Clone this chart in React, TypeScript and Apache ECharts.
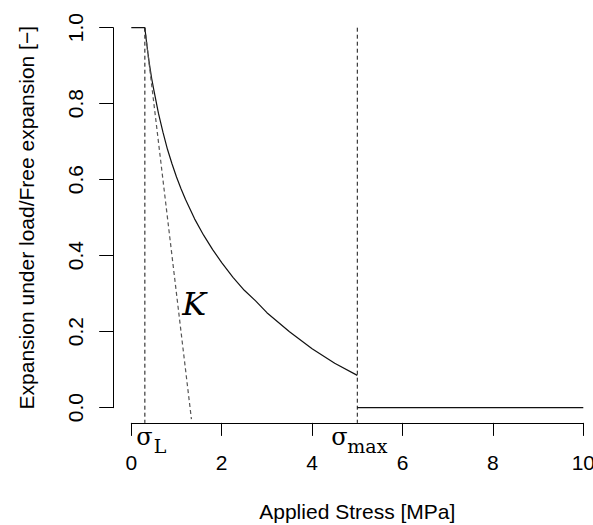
import React, { useEffect, useRef } from "react";
import * as echarts from "echarts";

// Expansion under load / free expansion vs applied stress
const curveStress = [0, 0.3, 0.33, 0.36, 0.4, 0.45, 0.5, 0.6, 0.7, 0.8, 0.9, 1.0, 1.1, 1.2, 1.4, 1.6, 1.8, 2.0, 2.25, 2.5, 2.75, 3.0, 3.5, 4.0, 4.5, 5.0];
const curveRatio = [1.0, 1.0, 0.969, 0.94, 0.905, 0.867, 0.835, 0.775, 0.725, 0.68, 0.642, 0.607, 0.576, 0.548, 0.497, 0.454, 0.416, 0.382, 0.343, 0.309, 0.281, 0.25, 0.2, 0.155, 0.117, 0.085];
const afterStress = [5, 10];
const afterRatio = [0, 0];
const kStress = [0.3, 1.33];
const kRatio = [1.0, -0.03];
const sigmaL = 0.3;
const sigmaMax = 5;
const guideTop = 1.0;
const guideBottom = -0.04;
const xTicks = [0, 2, 4, 6, 8, 10];
const yTicks = [0, 0.2, 0.4, 0.6, 0.8, 1.0];

const xTitle = "Applied Stress [MPa]";
const yTitle = "Expansion under load/Free expansion [\u2212]";

const zip = (xs: number[], ys: number[]) => xs.map((x, i) => [x, ys[i]]);

export default function App() {
  const ref = useRef<HTMLDivElement>(null);
  useEffect(() => {
    if (!ref.current) return;
    const chart = echarts.init(ref.current, null, { renderer: "svg" });
    const sans = "Liberation Sans";
    const serif = "DejaVu Serif";
    chart.setOption({
      animation: false,
      backgroundColor: "#fff",
      grid: {
        left: 131.3,
        right: 9.7,
        top: 27.7,
        bottom: 117.3,
        containLabel: false,
        outerBoundsMode: "none",
      },
      xAxis: {
        type: "value",
        min: xTicks[0],
        max: xTicks[xTicks.length - 1],
        interval: 2,
        offset: 15.2,
        splitLine: { show: false },
        axisLine: { show: true, onZero: false, lineStyle: { color: "#000", width: 1 } },
        axisTick: { show: true, length: 13, lineStyle: { color: "#000", width: 1 } },
        axisLabel: { color: "#000", fontSize: 21, fontFamily: sans, margin: 29 },
        name: xTitle,
        nameLocation: "middle",
        nameGap: 78,
        nameTextStyle: { color: "#000", fontSize: 21, fontFamily: sans },
      },
      yAxis: {
        type: "value",
        min: yTicks[0],
        max: yTicks[yTicks.length - 1],
        interval: 0.2,
        offset: 18.1,
        splitLine: { show: false },
        axisLine: { show: true, onZero: false, lineStyle: { color: "#000", width: 1 } },
        axisTick: { show: true, length: 14, lineStyle: { color: "#000", width: 1 } },
        axisLabel: {
          color: "#000",
          fontSize: 21,
          fontFamily: sans,
          rotate: 90,
          margin: 27,
          formatter: (v: number) => v.toFixed(1),
        },
        name: yTitle,
        nameLocation: "middle",
        nameRotate: 90,
        nameGap: 76,
        nameTextStyle: { color: "#000", fontSize: 21, fontFamily: sans },
      },
      series: [
        {
          type: "line",
          data: zip(curveStress, curveRatio),
          showSymbol: false,
          symbol: "none",
          clip: false,
          lineStyle: { color: "#111", width: 1.2 },
        },
        {
          type: "line",
          data: zip(afterStress, afterRatio),
          symbol: "none",
          clip: false,
          lineStyle: { color: "#111", width: 1.2 },
        },
        {
          type: "line",
          data: zip(kStress, kRatio),
          symbol: "none",
          clip: false,
          lineStyle: { color: "#555", width: 1.2, type: [4, 3] },
        },
        {
          type: "line",
          data: [[sigmaL, guideTop], [sigmaL, guideBottom]],
          symbol: "none",
          clip: false,
          lineStyle: { color: "#111", width: 1, type: [4, 3] },
        },
        {
          type: "line",
          data: [[sigmaMax, guideTop], [sigmaMax, guideBottom]],
          symbol: "none",
          clip: false,
          lineStyle: { color: "#111", width: 1, type: [4, 3] },
        },
      ],
    });

    const pL = chart.convertToPixel({ gridIndex: 0 }, [sigmaL, 0]) as number[];
    const pM = chart.convertToPixel({ gridIndex: 0 }, [sigmaMax, 0]) as number[];
    const pK = chart.convertToPixel({ gridIndex: 0 }, [1.39, 0.273]) as number[];
    const txt = (x: number, y: number, text: string, size: number, italic = false, align = "left") => ({
      type: "text",
      x,
      y,
      silent: true,
      style: {
        text,
        fill: "#000",
        fontFamily: serif,
        fontSize: size,
        fontStyle: italic ? "italic" : "normal",
        textAlign: align,
        textVerticalAlign: "middle",
      },
    });
    chart.setOption({
      graphic: [
        txt(pL[0] - 8.5, pL[1] + 29.5, "\u03c3", 24),
        txt(pL[0] + 9, pL[1] + 38.1, "L", 19),
        txt(pM[0] - 26, pM[1] + 29.5, "\u03c3", 24),
        txt(pM[0] - 10, pM[1] + 38.1, "max", 19),
        txt(pK[0], pK[1], "K", 32, true, "center"),
      ],
    });
    return () => chart.dispose();
  }, []);
  return <div ref={ref} style={{ position: "fixed", left: 0, top: 0, width: 593, height: 525 }} />;
}
